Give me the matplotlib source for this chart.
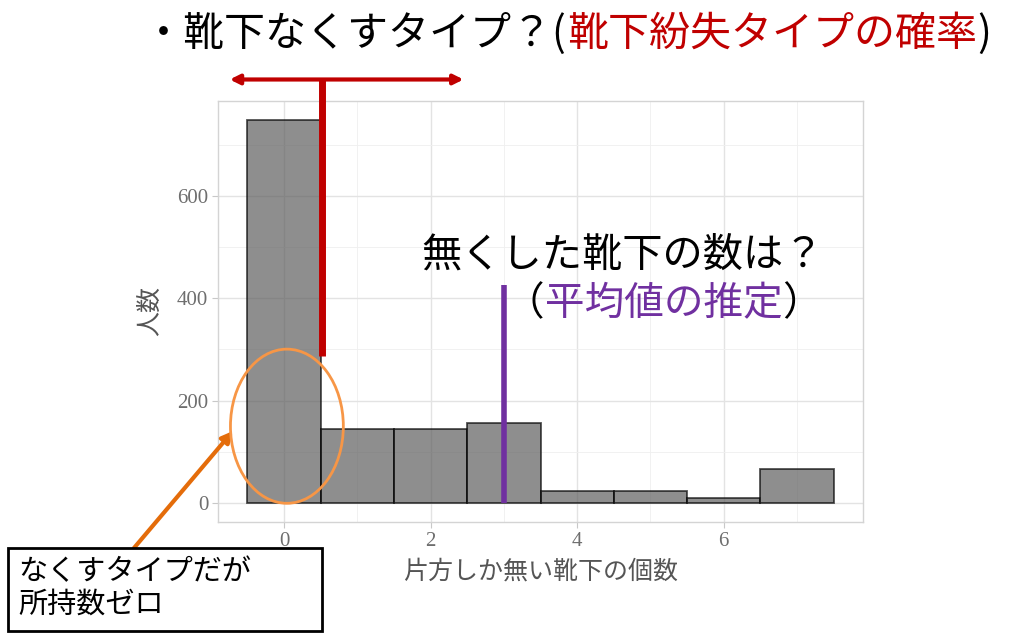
import numpy as np
import matplotlib
matplotlib.use("Agg")
import matplotlib.pyplot as plt
from matplotlib.patches import Ellipse, FancyBboxPatch

plt.rcParams['font.family'] = ['Noto Sans CJK JP', 'DejaVu Sans']

# histogram counts (socks with only one of the pair)
counts_x = [0, 1, 2, 3, 4, 5, 6, 7]
counts_n = [748, 144, 144, 156, 24, 23, 10, 67]
mean_lost = 3.0

x_ticks = [0, 2, 4, 6]
y_ticks = [0, 200, 400, 600]

RED = '#c00000'
PURPLE = '#7030a0'
ORANGE_LIGHT = '#f79646'
ORANGE_DARK = '#e46c0a'

fig = plt.figure(figsize=(10.24, 6.42), dpi=100)
ax = fig.add_axes([218 / 1024, 1 - 522 / 642, 645 / 1024, 421 / 642])

ax.bar(counts_x, counts_n, width=1.0, color='#595959', alpha=0.68,
       edgecolor='black', linewidth=1.3, zorder=3)

ax.set_xlim(-0.9, 7.9)
ax.set_ylim(-37, 785)
ax.set_xticks(x_ticks)
ax.set_yticks(y_ticks)
ax.set_xticks([1, 3, 5, 7], minor=True)
ax.set_yticks([100, 300, 500, 700], minor=True)
ax.grid(which='major', color='#e3e3e3', linewidth=1.0, zorder=0)
ax.grid(which='minor', color='#efefef', linewidth=0.6, zorder=0)
for s in ax.spines.values():
    s.set_color('#d4d4d4')
    s.set_linewidth(1.0)
ax.tick_params(which='major', length=4, color='#c8c8c8', labelcolor='#6e6e6e',
               labelsize=15, pad=3)
ax.tick_params(which='minor', length=0)
for lab in ax.get_xticklabels() + ax.get_yticklabels():
    lab.set_family('Liberation Serif')

ax.set_xlabel('片方しか無い靴下の個数', fontsize=18, color='#555555', labelpad=6)
ax.set_ylabel('人数', fontsize=18, color='#555555', labelpad=10)

# purple mean line
ax.plot([mean_lost, mean_lost], [0, 425], color=PURPLE, linewidth=4, zorder=5,
        solid_capstyle='butt')

# red probability marker
ax.plot([0.52, 0.52], [287, 827], color=RED, linewidth=5, zorder=5,
        clip_on=False, solid_capstyle='butt')
ax.annotate('', xy=(-0.74, 827), xytext=(2.45, 827),
            arrowprops=dict(arrowstyle='<|-|>', color=RED, lw=3,
                            mutation_scale=14, shrinkA=0, shrinkB=0),
            annotation_clip=False)

# orange ellipse around zero bin
ax.add_patch(Ellipse((0.04, 150), 1.54, 301, fill=False,
                     edgecolor=ORANGE_LIGHT, linewidth=2, zorder=6))


def fig_xy(px, py):
    return px / 1024, 1 - py / 642


def colored_line(parts, px, py, size):
    renderer = fig.canvas.get_renderer()
    x, y = fig_xy(px, py)
    for txt, col in parts:
        t = fig.text(x, y, txt, color=col, fontsize=size, va='center', ha='left')
        bb = t.get_window_extent(renderer=renderer)
        x += bb.width / fig.bbox.width


colored_line([('・靴下なくすタイプ？(', 'black'), ('靴下紛失タイプの確率', RED), (')', 'black')],
             143, 34, 29.5)
colored_line([('無くした靴下の数は？', 'black')], 421, 255, 29)
colored_line([('（', 'black'), ('平均値の推定', PURPLE), ('）', 'black')], 505, 304, 28.5)

# note box
bx0, by0 = fig_xy(8, 631)
bx1, by1 = fig_xy(322, 548)
fig.patches.append(FancyBboxPatch((bx0, by0), bx1 - bx0, by1 - by0,
                                  boxstyle='square,pad=0', transform=fig.transFigure,
                                  facecolor='white', edgecolor='black', linewidth=2))
tx, ty = fig_xy(18, 588)
fig.text(tx, ty, 'なくすタイプだが\n所持数ゼロ', fontsize=21, va='center', ha='left',
         linespacing=1.1)

# orange arrow from box to ellipse
ax.annotate('', xy=fig_xy(233, 431), xytext=fig_xy(134, 548),
            xycoords='figure fraction', textcoords='figure fraction',
            arrowprops=dict(arrowstyle='-|>', color=ORANGE_DARK, lw=3,
                            mutation_scale=16, shrinkA=0, shrinkB=0),
            annotation_clip=False)

fig.savefig('out.png', dpi=100)
